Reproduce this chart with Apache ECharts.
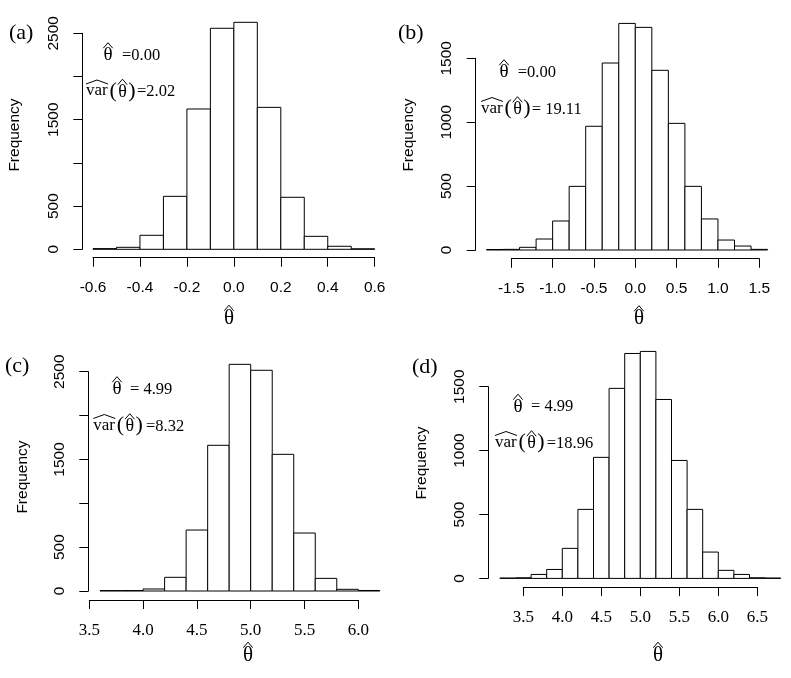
<!DOCTYPE html>
<html>
<head>
<meta charset="utf-8">
<script src="https://cdn.jsdelivr.net/npm/echarts@6.0.0/dist/echarts.min.js"></script>
<style>
html,body{margin:0;padding:0;background:#fff;}
#main{width:791px;height:678px;}
</style>
</head>
<body>
<div id="main"></div>
<script>
// panel (a)
var breaksA = [-0.6,-0.5,-0.4,-0.3,-0.2,-0.1,0.0,0.1,0.2,0.3,0.4,0.5,0.6];
var countsA = [8,23,162,613,1624,2558,2627,1643,602,150,35,6];
var xTicksA = [-0.6,-0.4,-0.2,0.0,0.2,0.4,0.6];
var yTicksA = [0,500,1000,1500,2000,2500];
var yLabelsA = [0,500,1500,2500];

// panel (b)
var breaksB = [-1.8,-1.6,-1.4,-1.2,-1.0,-0.8,-0.6,-0.4,-0.2,0.0,0.2,0.4,0.6,0.8,1.0,1.2,1.4,1.6];
var countsB = [4,5,21,86,227,498,968,1463,1773,1742,1406,991,498,243,78,31,5];
var xTicksB = [-1.5,-1.0,-0.5,0.0,0.5,1.0,1.5];
var yTicksB = [0,500,1000,1500];
var yLabelsB = [0,500,1000,1500];

// panel (c)
var breaksC = [3.6,3.8,4.0,4.2,4.4,4.6,4.8,5.0,5.2,5.4,5.6,5.8,6.0,6.2];
var countsC = [5,5,23,156,695,1661,2584,2516,1558,661,144,19,6];
var xTicksC = [3.5,4.0,4.5,5.0,5.5,6.0];
var yTicksC = [0,500,1000,1500,2000,2500];
var yLabelsC = [0,500,1500,2500];

// panel (d)
var breaksD = [3.2,3.4,3.6,3.8,4.0,4.2,4.4,4.6,4.8,5.0,5.2,5.4,5.6,5.8,6.0,6.2,6.4,6.6,6.8];
var countsD = [3,5,31,70,235,540,947,1487,1760,1776,1400,923,540,206,63,31,5,3];
var xTicksD = [3.5,4.0,4.5,5.0,5.5,6.0,6.5];
var yTicksD = [0,500,1000,1500];
var yLabelsD = [0,500,1000,1500];

var panelNames = ['(a)','(b)','(c)','(d)'];
var thetaText = ['=0.00','=0.00','= 4.99','= 4.99'];
var varText = ['=2.02','= 19.11','=8.32','=18.96'];

var sans = 'Liberation Sans';
var serif = 'Liberation Serif';

function histData(breaks, counts){
  var out = [];
  for (var i = 0; i < counts.length; i++) {
    out.push([breaks[i], breaks[i+1], counts[i]]);
  }
  return out;
}

function renderBar(params, api){
  var p0 = api.coord([api.value(0), 0]);
  var p1 = api.coord([api.value(1), api.value(2)]);
  return {
    type: 'rect',
    shape: {x: p0[0], y: p1[1], width: p1[0]-p0[0], height: p0[1]-p1[1]},
    style: {fill: '#fff', stroke: '#000', lineWidth: 1}
  };
}

function fmt1(v){
  var r = Math.round(v*10)/10;
  if (Math.abs(r) < 1e-9) r = 0;
  return r.toFixed(1);
}

var grids = [], xAxes = [], yAxes = [], series = [];

function addPanel(i, breaks, counts, xTicks, yTicks, yLabels, g){
  grids.push({left: g.left, top: g.top, width: g.width, height: g.height});
  xAxes.push({
    type: 'value', gridIndex: i, position: 'bottom',
    min: xTicks[0], max: xTicks[xTicks.length-1], interval: xTicks[1]-xTicks[0],
    offset: g.xOff,
    axisLine: {show: true, onZero: false, lineStyle: {color: '#000', width: 1}},
    axisTick: {show: true, length: 9, lineStyle: {color: '#000'}},
    splitLine: {show: false},
    axisLabel: {
      margin: 22, color: '#000',
      fontFamily: g.xFont, fontSize: g.xSize,
      showMinLabel: true, showMaxLabel: true,
      formatter: fmt1
    }
  });
  // y axis with ticks and rotated labels
  yAxes.push({
    type: 'value', gridIndex: i, position: 'left',
    min: yTicks[0], max: yTicks[yTicks.length-1], interval: yTicks[1]-yTicks[0],
    offset: g.yOff,
    axisLine: {show: false, onZero: false},
    axisTick: {show: true, length: 9, lineStyle: {color: '#000'}},
    splitLine: {show: false},
    axisLabel: {
      margin: 21, color: '#000', rotate: 90,
      fontFamily: sans, fontSize: 15.5,
      formatter: function(v){ return yLabels.indexOf(v) >= 0 ? String(v) : ''; }
    }
  });
  // same y axis again, only for its line (rotated labels hide the line otherwise)
  yAxes.push({
    type: 'value', gridIndex: i, position: 'left',
    min: yTicks[0], max: yTicks[yTicks.length-1], interval: yTicks[1]-yTicks[0],
    offset: g.yOff,
    axisLine: {show: true, onZero: false, lineStyle: {color: '#000', width: 1}},
    axisTick: {show: false},
    axisLabel: {show: false},
    splitLine: {show: false}
  });
  series.push({
    type: 'custom', xAxisIndex: i, yAxisIndex: 2*i,
    clip: false, silent: true,
    renderItem: renderBar,
    encode: {x: [0, 1], y: 2},
    data: histData(breaks, counts)
  });
}

addPanel(0, breaksA, countsA, xTicksA, yTicksA, yLabelsA,
  {left: 93, top: 33.3, width: 281.7, height: 216, xOff: 8.4, yOff: 10.7, xFont: sans, xSize: 15.5});
addPanel(1, breaksB, countsB, xTicksB, yTicksB, yLabelsB,
  {left: 511.3, top: 58.3, width: 248, height: 191.7, xOff: 8.7, yOff: 35.6, xFont: sans, xSize: 15.5});
addPanel(2, breaksC, countsC, xTicksC, yTicksC, yLabelsC,
  {left: 89.3, top: 371.7, width: 269, height: 219.3, xOff: 9, yOff: 1, xFont: serif, xSize: 17});
addPanel(3, breaksD, countsD, xTicksD, yTicksD, yLabelsD,
  {left: 523.3, top: 386.7, width: 234, height: 191.7, xOff: 8.7, yOff: 35, xFont: serif, xSize: 17});

// where the texts of each panel go
var place = [
  {lab: [9, 33], freq: [15, 135], xt: [229, 318], th: [108, 55.5], thv: 122, vr: [86, 92], vrv: 51},
  {lab: [398, 33], freq: [409, 135], xt: [639, 318.5], th: [504, 72.5], thv: 517.7, vr: [481, 109.5], vrv: 50.7},
  {lab: [5, 366], freq: [22.7, 477], xt: [248, 655], th: [117, 389.5], thv: 130, vr: [93.3, 426.5], vrv: 52.7},
  {lab: [412, 367], freq: [421.7, 463], xt: [658, 655], th: [518, 407], thv: 531, vr: [495, 443.5], vrv: 51.7}
];

var graphic = [];

function txt(x, y, s, font, align){
  graphic.push({type: 'text', x: x, y: y,
    style: {text: s, font: font, fill: '#000', align: align || 'left', verticalAlign: 'middle'}});
}

// theta with a hat drawn on top
function thetaHat(cx, cy, size){
  txt(cx, cy, '\u03b8', size + 'px ' + serif, 'center');
  graphic.push({type: 'polyline',
    shape: {points: [[cx-4.7, cy-7.3], [cx, cy-12.8], [cx+4.7, cy-7.3]]},
    style: {stroke: '#000', fill: null, lineWidth: 1}});
}

for (var k = 0; k < 4; k++) {
  var p = place[k];
  txt(p.lab[0], p.lab[1], panelNames[k], '22px ' + serif);
  graphic.push({type: 'text', x: p.freq[0], y: p.freq[1], rotation: Math.PI/2,
    style: {text: 'Frequency', font: '15.5px ' + sans, fill: '#000', align: 'center', verticalAlign: 'middle'}});
  // x axis title
  thetaHat(p.xt[0], p.xt[1], 21);
  // mean annotation
  thetaHat(p.th[0], p.th[1], 19);
  txt(p.thv, p.th[1], thetaText[k], '16.5px ' + serif);
  // variance annotation
  var vx = p.vr[0], vy = p.vr[1];
  txt(vx, vy - 1, 'var', '17px ' + serif);
  graphic.push({type: 'polyline',
    shape: {points: [[vx, vy-8], [vx+11, vy-12], [vx+22, vy-8]]},
    style: {stroke: '#000', fill: null, lineWidth: 1}});
  txt(vx + 23.5, vy - 1, '(', '22px ' + serif);
  thetaHat(vx + 36.5, vy, 18);
  txt(vx + 49.5, vy - 1, ')', '22px ' + serif, 'right');
  txt(vx + p.vrv, vy, varText[k], '16.5px ' + serif);
}

var option = {
  backgroundColor: '#fff',
  animation: false,
  grid: grids,
  xAxis: xAxes,
  yAxis: yAxes,
  series: series,
  graphic: graphic
};
var chart = echarts.init(document.getElementById('main'));
chart.setOption(option);
</script>
</body>
</html>
